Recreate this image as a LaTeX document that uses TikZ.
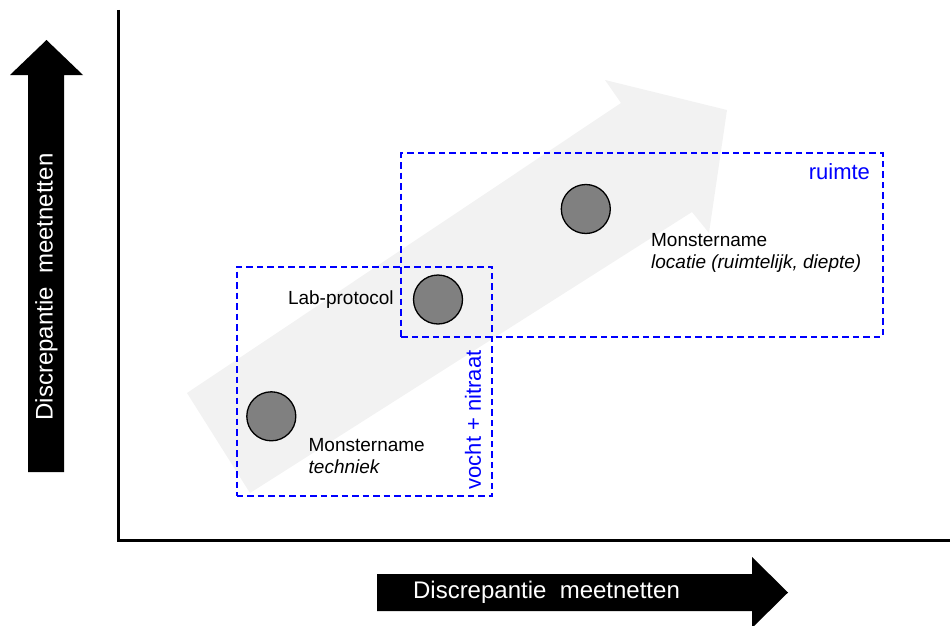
\documentclass[tikz,border=0pt]{standalone}
\usepackage{fontspec}
\setmainfont{Liberation Sans}
\usetikzlibrary{positioning}

\begin{document}
\begin{tikzpicture}[x=1pt,y=-1pt,
    sample/.style={circle,draw=black,line width=1.3pt,fill=black!50,minimum size=49pt,inner sep=0pt},
    zone/.style={draw=blue,line width=1.7pt,dash pattern=on 6.5pt off 4pt,inner sep=0pt},
    zonelabel/.style={text=blue,font=\fontsize{22}{26}\selectfont,inner sep=0pt},
    lbl/.style={font=\fontsize{19}{22}\selectfont,align=left,inner sep=0pt},
    axislabel/.style={text=white,font=\fontsize{24}{28}\selectfont,inner sep=0pt}]
    \useasboundingbox (0,0) rectangle (950,626);
    %
    % big grey trend arrow
    \fill[black!5] (187,393) -- (621,103) -- (605,80) -- (727,110) -- (709,233) -- (692,212) -- (250,493) -- cycle;
    %
    % axes
    \draw[line width=3pt] (118,10) -- (118,540.5) -- (950,540.5);
    \fill[black] (28,472) -- (28,75) -- (10,75) -- (46.5,40) -- (83,75) -- (64,75) -- (64,472) -- cycle;
    \fill[black] (377,574) -- (752,574) -- (752,557) -- (788,592.5) -- (752,628) -- (752,611) -- (377,611) -- cycle;
    \node[axislabel,rotate=90] (ylabel) at (46.5,287) {Discrepantie\ \ meetnetten};
    \node[axislabel] (xlabel) at (546.5,592) {Discrepantie\ \ meetnetten};
    %
    % zones
    \node[zone,minimum width=255.6pt,minimum height=229.3pt] (lab) at (364.5,381.35) {};
    \node[zone,minimum width=481.4pt,minimum height=183.4pt] (space) at (642,245) {};
    \node[zonelabel,below left=11pt and 13.4pt of space.north east] (spacelabel) {ruimte};
    \node[zonelabel,rotate=90] (lablabel) at (473,420) {vocht + nitraat};
    %
    % samples
    \node[sample] (s1) at (271.3,416.3) {};
    \node[sample] (s2) at (438,299.5) {};
    \node[sample] (s3) at (585.8,209) {};
    \node[lbl,below right=21.7pt and 12pt of s1.east] (techniek) {Monstername\\\textit{techniek}};
    \node[lbl,left=19pt of s2] (protocol) {Lab-protocol};
    \node[lbl,below right=24pt and 40pt of s3.east] (locatie) {Monstername\\\textit{locatie (ruimtelijk, diepte)}};
\end{tikzpicture}
\end{document}
